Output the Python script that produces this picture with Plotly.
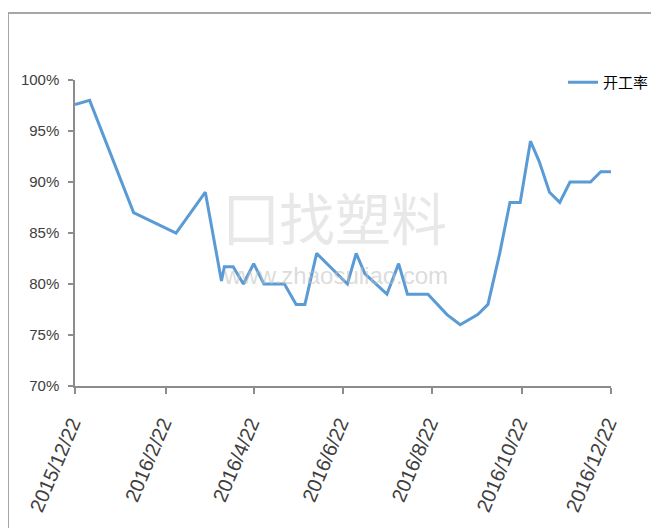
import plotly.graph_objects as go

# ---- data ----
dates = ["2015-12-22", "2016-01-01", "2016-01-31", "2016-02-29", "2016-03-20",
         "2016-03-31", "2016-04-02", "2016-04-08", "2016-04-15", "2016-04-22",
         "2016-04-29", "2016-05-13", "2016-05-21", "2016-05-27", "2016-06-04",
         "2016-06-25", "2016-07-01", "2016-07-07", "2016-07-22", "2016-07-30",
         "2016-08-05", "2016-08-19", "2016-09-01", "2016-09-10", "2016-09-22",
         "2016-09-29", "2016-10-07", "2016-10-14", "2016-10-21", "2016-10-28",
         "2016-11-03", "2016-11-10", "2016-11-17", "2016-11-24", "2016-12-08",
         "2016-12-15", "2016-12-22"]
rate = [97.6, 98.0, 87, 85, 89,
        80.3, 81.7, 81.7, 80, 82,
        80, 80, 78, 78, 83,
        80, 83, 81, 79, 82,
        79, 79, 77, 76, 77,
        78, 83, 88, 88, 94,
        92, 89, 88, 90, 90,
        91, 91]
series_name = "开工率"

x_tick_vals = ["2015-12-22", "2016-02-22", "2016-04-22", "2016-06-22",
               "2016-08-22", "2016-10-22", "2016-12-22"]
x_tick_text = ["2015/12/22", "2016/2/22", "2016/4/22", "2016/6/22",
               "2016/8/22", "2016/10/22", "2016/12/22"]
y_tick_vals = [70, 75, 80, 85, 90, 95, 100]
y_tick_text = ["70%", "75%", "80%", "85%", "90%", "95%", "100%"]

# page has an 8px body margin
OFF = 8
W, H = 659 - OFF, 528 - OFF
# plot area in screen coords: x 75..611, y 80..386
L, R, T = 75 - OFF, W - (611 - OFF), 80 - OFF
B = H - (386 - OFF)
pw, ph = W - L - R, H - T - B

def px_x(sx):
    return (sx - OFF - L) / pw

def px_y(sy):
    return (H - B - (sy - OFF)) / ph

fig = go.Figure()
fig.add_trace(go.Scatter(
    x=dates, y=rate, mode="lines", name=series_name,
    line=dict(color="#5B9BD5", width=3),
))

axis_col = "#8c8c8c"
fig.update_layout(
    width=W, height=H,
    margin=dict(l=L, r=R, t=T, b=B, autoexpand=False),
    paper_bgcolor="white", plot_bgcolor="white",
    font=dict(family="Liberation Sans, Arial, sans-serif", color="#404040"),
    showlegend=True,
    legend=dict(x=px_x(563), y=px_y(66), xanchor="left", yanchor="top",
                bgcolor="rgba(0,0,0,0)",
                font=dict(family="Noto Sans CJK SC", size=15, color="#000000")),
    xaxis=dict(
        type="date", range=["2015-12-22", "2016-12-22"],
        tickvals=x_tick_vals, ticktext=x_tick_text, tickangle=-67,
        showgrid=False, zeroline=False,
        showline=True, linecolor=axis_col, linewidth=1.5,
        ticks="outside", ticklen=6, tickcolor=axis_col, tickwidth=1.5,
        tickfont=dict(size=20, color="#404040"),
        ticklabelstandoff=10, ticklabelshift=-3,
    ),
    yaxis=dict(
        range=[70, 100], tickvals=y_tick_vals, ticktext=y_tick_text,
        showgrid=False, zeroline=False,
        showline=True, linecolor=axis_col, linewidth=1.5,
        ticks="outside", ticklen=5, tickcolor=axis_col, tickwidth=1.5,
        tickfont=dict(size=15, color="#404040"),
        ticklabelstandoff=6,
    ),
)

# outer frame (partially cropped in reference)
fig.add_shape(type="rect", xref="paper", yref="paper",
              x0=px_x(8), x1=px_x(700), y0=px_y(560), y1=px_y(13),
              line=dict(color="#a6a6a6", width=2), fillcolor="rgba(0,0,0,0)",
              layer="below")

# watermark
fig.add_annotation(xref="paper", yref="paper", x=px_x(335), y=px_y(215),
                   text="囗找塑料", showarrow=False,
                   font=dict(family="Noto Sans CJK SC", size=56,
                             color="rgba(205,205,205,0.45)"))
fig.add_annotation(xref="paper", yref="paper", x=px_x(335), y=px_y(275),
                   text="www.zhaosuliao.com", showarrow=False,
                   font=dict(family="Liberation Sans", size=24,
                             color="rgba(190,190,190,0.55)"))

fig.write_html("out.html")
